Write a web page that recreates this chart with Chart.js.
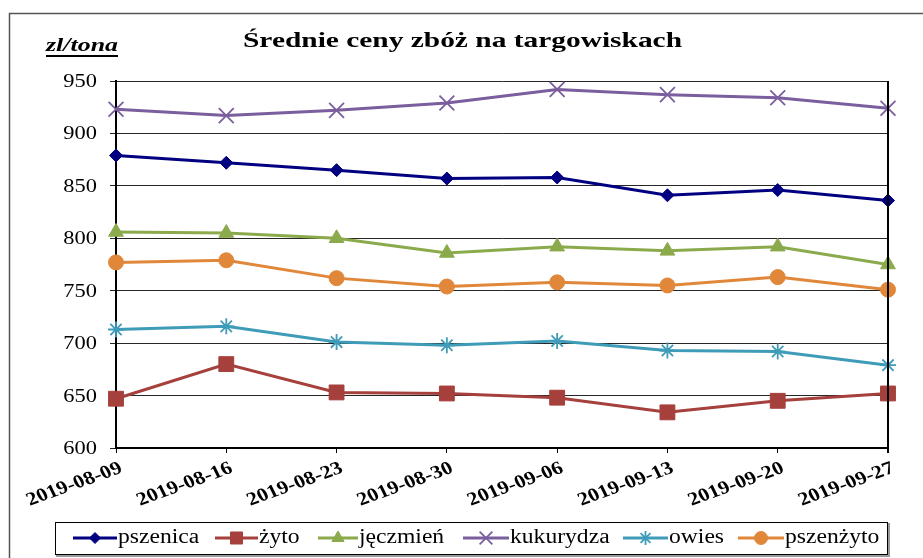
<!DOCTYPE html>
<html>
<head>
<meta charset="utf-8">
<script src="https://cdn.jsdelivr.net/npm/chart.js@4"></script>
<style>
    body { margin: 0; background: #fff; }
    #wrap { width: 923px; height: 558px; position: relative; }
</style>
</head>
<body>
<div id="wrap"><canvas id="chart"></canvas></div>
<script>
const dates = ['2019-08-09', '2019-08-16', '2019-08-23', '2019-08-30', '2019-09-06', '2019-09-13', '2019-09-20', '2019-09-27'];

const pszenica = [879, 872, 865, 857, 858, 841, 846, 836];
const zyto = [647, 680, 653, 652, 648, 634, 645, 652];
const jeczmien = [806, 805, 800, 786, 792, 788, 792, 775];
const kukurydza = [923, 917, 922, 929, 942, 937, 934, 924];
const owies = [713, 716, 701, 698, 702, 693, 692, 679];
const pszenzyto = [777, 779, 762, 754, 758, 755, 763, 751];

const yTicks = [600, 650, 700, 750, 800, 850, 900, 950];

const SERIF = '"Liberation Serif", "Times New Roman", serif';
const STRETCH = 1.18;

function series(label, data, color, style, radius) {
    return {
        label: label,
        data: data,
        borderColor: color,
        backgroundColor: color,
        borderWidth: 3,
        pointStyle: style,
        pointRadius: radius,
        pointBorderWidth: (style === 'crossRot' || style === 'star') ? 1.8 : 1,
        pointBorderColor: color,
        pointBackgroundColor: color,
        tension: 0,
        clip: false,
    };
}

const datasets = [
    series('pszenica', pszenica, '#000080', 'rectRot', 6.5),
    series('żyto', zyto, '#A5403C', 'rect', 10.5),
    series('jęczmień', jeczmien, '#8BAA4C', 'triangle', 8.5),
    series('kukurydza', kukurydza, '#7A5E9E', 'crossRot', 10.5),
    series('owies', owies, '#3F9CB8', 'star', 8),
    series('pszenżyto', pszenzyto, '#E0873A', 'circle', 7.5),
];

// legend: line start, line end
const legendPos = [[73, 117], [215, 258], [318, 358], [463, 509], [623, 668], [738, 784]];
const legendRadius = [5.5, 8.5, 7, 9, 7, 6.5];

function drawFit(ctx, text, font, x, y, width) {
    ctx.save();
    ctx.font = font;
    const w = ctx.measureText(text).width;
    ctx.translate(x, y);
    ctx.scale(width / w, 1);
    ctx.textAlign = 'left';
    ctx.textBaseline = 'alphabetic';
    ctx.fillText(text, 0, 0);
    ctx.restore();
}

function drawStretched(ctx, text, font, x, y, align, baseline, angle) {
    ctx.save();
    ctx.font = font;
    ctx.translate(x, y);
    ctx.scale(STRETCH, 1);
    if (angle) ctx.rotate(angle * Math.PI / 180);
    ctx.textAlign = align;
    ctx.textBaseline = baseline;
    ctx.fillText(text, 0, 0);
    ctx.restore();
}

const decorPlugin = {
    id: 'decor',
    afterDraw(chart) {
        const ctx = chart.ctx;
        const area = chart.chartArea;
        ctx.save();

        // outer frame
        ctx.strokeStyle = '#555';
        ctx.lineWidth = 1.5;
        ctx.beginPath();
        ctx.moveTo(9.5, 558);
        ctx.lineTo(9.5, 13.5);
        ctx.lineTo(923, 13.5);
        ctx.stroke();

        // right border of plot
        ctx.strokeStyle = '#000';
        ctx.lineWidth = 2;
        ctx.beginPath();
        ctx.moveTo(area.right, area.top);
        ctx.lineTo(area.right, area.bottom + 5);
        ctx.stroke();

        ctx.fillStyle = '#000';
        drawFit(ctx, 'Średnie ceny zbóż na targowiskach', 'bold 22px ' + SERIF, 243, 47, 439);
        drawFit(ctx, 'zl/tona', 'italic bold 18px ' + SERIF, 46, 51, 72);
        ctx.fillRect(46, 55, 72, 2);

        // y labels
        const ys = chart.scales.y;
        ys.ticks.forEach(t => {
            const y = ys.getPixelForValue(t.value);
            drawStretched(ctx, String(t.value), '19px ' + SERIF, 97, y + 1, 'right', 'middle', 0);
        });

        // x labels
        const xs = chart.scales.x;
        dates.forEach((d, i) => {
            const x = xs.getPixelForValue(i);
            drawStretched(ctx, d, 'bold 18.5px ' + SERIF, x + 1, 459, 'right', 'top', -23);
        });

        // legend box
        ctx.strokeStyle = '#000';
        ctx.lineWidth = 1;
        ctx.strokeRect(55.5, 522.5, 832, 32);
        ctx.strokeStyle = '#999';
        ctx.lineWidth = 2;
        ctx.beginPath();
        ctx.moveTo(56, 556);
        ctx.lineTo(889, 556);
        ctx.lineTo(889, 523);
        ctx.stroke();

        datasets.forEach((ds, i) => {
            const [x0, x1] = legendPos[i];
            const y = 538;
            ctx.strokeStyle = ds.borderColor;
            ctx.fillStyle = ds.borderColor;
            ctx.lineWidth = 3;
            ctx.beginPath();
            ctx.moveTo(x0, y);
            ctx.lineTo(x1, y);
            ctx.stroke();
            ctx.lineWidth = ds.pointBorderWidth;
            Chart.helpers.drawPoint(ctx, {
                pointStyle: ds.pointStyle,
                radius: legendRadius[i],
                borderWidth: ds.pointBorderWidth,
                rotation: 0,
            }, (x0 + x1) / 2, y);

            ctx.fillStyle = '#000';
            drawStretched(ctx, ds.label, '20px ' + SERIF, x1 + 1, 543, 'left', 'alphabetic', 0);
        });

        ctx.restore();
    }
};

const ctx = document.getElementById('chart').getContext('2d');
new Chart(ctx, {
    type: 'line',
    data: {
        labels: dates,
        datasets: datasets,
    },
    options: {
        responsive: true,
        maintainAspectRatio: false,
        animation: false,
        layout: {
            padding: { top: 81, right: 35, left: 0, bottom: 0 },
        },
        plugins: {
            legend: { display: false },
            title: { display: false },
            tooltip: { enabled: false },
        },
        scales: {
            x: {
                type: 'category',
                offset: false,
                ticks: { display: false },
                grid: {
                    drawOnChartArea: false,
                    drawTicks: true,
                    tickLength: 5,
                    color: '#000',
                },
                border: { color: '#000', width: 2 },
                afterFit(scale) { scale.height = 110; },
            },
            y: {
                min: 600,
                max: 950,
                afterBuildTicks(scale) {
                    scale.ticks = yTicks.map(v => ({ value: v }));
                },
                ticks: { display: false },
                grid: {
                    color: 'rgba(0,0,0,0.85)',
                    lineWidth: 1,
                    drawTicks: true,
                    tickLength: 6,
                },
                border: { color: '#000', width: 2 },
                afterFit(scale) { scale.width = 116; },
            },
        },
    },
    plugins: [decorPlugin],
});
</script>
</body>
</html>
